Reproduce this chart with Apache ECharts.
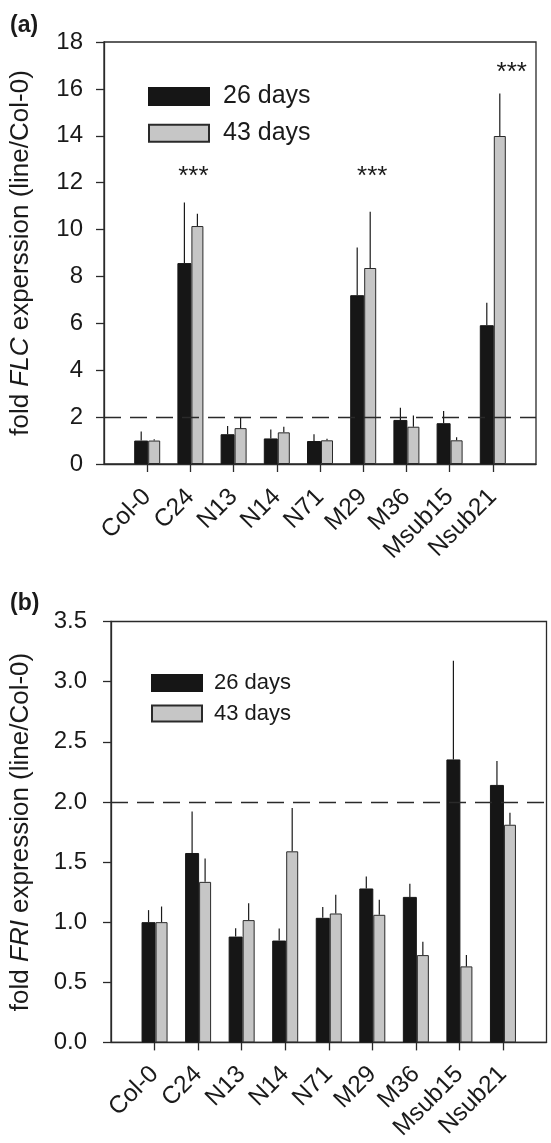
<!DOCTYPE html>
<html>
<head>
<meta charset="utf-8">
<script src="https://cdn.jsdelivr.net/npm/echarts@6/dist/echarts.min.js"></script>
<style>
  html, body { margin: 0; padding: 0; background: #fff; }
  #chart { width: 551px; height: 1143px; }
</style>
</head>
<body>
<div id="chart"></div>
<script>
// ---------- data ----------
const categories = ['Col-0', 'C24', 'N13', 'N14', 'N71', 'M29', 'M36', 'Msub15', 'Nsub21'];
const seriesNames = ['26 days', '43 days'];

// Panel (a): FLC
const flc26 = [1.00, 8.57, 1.27, 1.09, 0.98, 7.20, 1.88, 1.74, 5.92];
const flc26Err = [0.39, 2.58, 0.35, 0.38, 0.29, 2.03, 0.52, 0.52, 0.96];
const flc43 = [1.00, 10.15, 1.53, 1.35, 1.01, 8.36, 1.59, 1.01, 13.99];
const flc43Err = [0.06, 0.52, 0.45, 0.24, 0.07, 2.40, 0.48, 0.13, 1.81];
const flcSig = [{ cat: 'C24', y: 12.25, dx: 3 }, { cat: 'M29', y: 12.25, dx: 9 }, { cat: 'Nsub21', y: 16.7, dx: 19 }];
const flcTicks = { min: 0, max: 18, interval: 2 };

// Panel (b): FRI
const fri26 = [1.00, 1.575, 0.88, 0.847, 1.036, 1.28, 1.21, 2.353, 2.141];
const fri26Err = [0.10, 0.345, 0.07, 0.10, 0.09, 0.10, 0.11, 0.82, 0.20];
const fri43 = [1.00, 1.335, 1.017, 1.589, 1.072, 1.061, 0.726, 0.632, 1.81];
const fri43Err = [0.13, 0.195, 0.14, 0.36, 0.155, 0.125, 0.11, 0.095, 0.10];
const friTicks = { min: 0, max: 3.5, interval: 0.5 };

const threshold = 2;

// ---------- styling ----------
const FONT = 'Liberation Sans, Arial, Helvetica, sans-serif';
const AX = '#2a2a2a';
const TXT = '#1a1a1a';
const BLACK = '#161616';
const GREY = '#c6c6c6';
const W_BLACK = 14, W_GREY = 12;
const OFF_BLACK = -(W_BLACK + W_GREY) / 2 + W_BLACK / 2;
const OFF_GREY = -(W_BLACK + W_GREY) / 2 + W_BLACK + W_GREY / 2;
const YTICK_FS = 24, XTICK_FS = 24.5, NAME_FS = 26;

// padded categories so that ticks sit at 1..9 of a 0..10 span
const padCats = [''].concat(categories, ['']);
const pad = arr => [null].concat(arr, [null]);
const showInner = idx => idx > 0 && idx < padCats.length - 1;

function xAxisCfg(gridIndex, margin) {
  return {
    type: 'category', gridIndex, data: padCats, boundaryGap: false,
    axisLine: { lineStyle: { color: AX, width: 1.3 } },
    axisTick: { show: true, interval: showInner, length: 8, lineStyle: { color: AX, width: 1.3 } },
    axisLabel: { interval: showInner, rotate: 45, margin, color: TXT, fontSize: XTICK_FS, fontFamily: FONT },
    splitLine: { show: false }
  };
}
function yAxisCfg(gridIndex, ticks, name, nameGap, labelMargin, fmt) {
  return {
    type: 'value', gridIndex, min: ticks.min, max: ticks.max, interval: ticks.interval,
    name, nameLocation: 'middle', nameRotate: 90, nameGap,
    nameTextStyle: {
      color: TXT, fontFamily: FONT, fontSize: NAME_FS,
      rich: {
        n: { fontSize: NAME_FS, fontFamily: FONT, color: TXT },
        i: { fontSize: NAME_FS, fontFamily: FONT, color: TXT, fontStyle: 'italic' }
      }
    },
    axisLine: { show: true, lineStyle: { color: AX, width: 1.3 } },
    axisTick: { show: true, length: 8, lineStyle: { color: AX, width: 1.3 } },
    axisLabel: { margin: labelMargin, color: TXT, fontSize: YTICK_FS, fontFamily: FONT, formatter: fmt },
    splitLine: { show: false }
  };
}

function barSeries(name, data, idx, color, border, width, withLine) {
  const s = {
    name, type: 'bar', xAxisIndex: idx, yAxisIndex: idx, data: pad(data),
    barWidth: width, barGap: '0%',
    itemStyle: { color, borderColor: border, borderWidth: 1 },
    emphasis: { disabled: true }, z: 2
  };
  if (withLine) {
    s.markLine = {
      silent: true, symbol: 'none', label: { show: false },
      lineStyle: { color: '#2a2a2a', type: [17, 9], width: 1.3 },
      data: [{ yAxis: threshold }], z: 5
    };
  }
  return s;
}

function errSeries(vals, errs, idx, off) {
  const data = vals.map((v, i) => [i + 1, v, errs[i]]);
  return {
    type: 'custom', xAxisIndex: idx, yAxisIndex: idx, z: 4, silent: true,
    data,
    renderItem(params, api) {
      const x = api.value(0), v = api.value(1), e = api.value(2);
      const p0 = api.coord([x, v]);
      const p1 = api.coord([x, v + e]);
      return {
        type: 'line',
        shape: { x1: p0[0] + off, y1: p0[1], x2: p0[0] + off, y2: p1[1] },
        style: { stroke: '#1a1a1a', lineWidth: 1.2 }
      };
    }
  };
}

function sigSeries(list, idx) {
  return {
    type: 'custom', xAxisIndex: idx, yAxisIndex: idx, z: 6, silent: true,
    data: list.map(s => [categories.indexOf(s.cat) + 1, s.y, s.dx]),
    renderItem(params, api) {
      const p = api.coord([api.value(0), api.value(1)]);
      return {
        type: 'text', x: p[0] + api.value(2), y: p[1],
        style: { text: '***', fontSize: 26, fontFamily: FONT, fill: TXT, align: 'center', verticalAlign: 'middle' }
      };
    }
  };
}

const chart = echarts.init(document.getElementById('chart'), null, { renderer: 'canvas' });
chart.setOption({
  backgroundColor: '#fff',
  animation: false,
  title: [
    { text: '(a)', left: 5, top: 9, textStyle: { fontSize: 23, fontWeight: 'bold', fontFamily: FONT, color: TXT } },
    { text: '(b)', left: 5, top: 587, textStyle: { fontSize: 23, fontWeight: 'bold', fontFamily: FONT, color: TXT } }
  ],
  legend: [
    {
      data: seriesNames, left: 143, top: 79, orient: 'vertical', icon: 'rect',
      itemWidth: 60, itemHeight: 17, itemGap: 11.7, selectedMode: false,
      textStyle: { fontSize: 25, fontFamily: FONT, color: TXT, lineHeight: 17, padding: [0, 0, 0, 9] }
    },
    {
      data: seriesNames, left: 146, top: 667, orient: 'vertical', icon: 'rect',
      itemWidth: 50, itemHeight: 16, itemGap: 8.5, selectedMode: false,
      textStyle: { fontSize: 22, fontFamily: FONT, color: TXT, lineHeight: 16, padding: [0, 0, 0, 7] }
    }
  ],
  grid: [
    { left: 98, top: 42, width: 438, height: 422, show: true, borderColor: AX, borderWidth: 1.3, backgroundColor: 'transparent' },
    { left: 105.5, top: 621.5, width: 441, height: 424, show: true, borderColor: AX, borderWidth: 1.3, backgroundColor: 'transparent' }
  ],
  xAxis: [xAxisCfg(0, 29), xAxisCfg(1, 28)],
  yAxis: [
    yAxisCfg(0, flcTicks, '{n|fold }{i|FLC}{n| experssion (line/Col-0)}', 70, 21, v => String(v)),
    yAxisCfg(1, friTicks, '{n|fold }{i|FRI}{n| expression (line/Col-0)}', 77, 24, v => v.toFixed(1))
  ],
  series: [
    barSeries(seriesNames[0], flc26, 0, BLACK, BLACK, W_BLACK, true),
    barSeries(seriesNames[1], flc43, 0, GREY, '#2a2a2a', W_GREY, false),
    errSeries(flc26, flc26Err, 0, OFF_BLACK),
    errSeries(flc43, flc43Err, 0, OFF_GREY),
    sigSeries(flcSig, 0),
    barSeries(seriesNames[0], fri26, 1, BLACK, BLACK, W_BLACK, true),
    barSeries(seriesNames[1], fri43, 1, GREY, '#2a2a2a', W_GREY, false),
    errSeries(fri26, fri26Err, 1, OFF_BLACK),
    errSeries(fri43, fri43Err, 1, OFF_GREY)
  ]
});
</script>
</body>
</html>
